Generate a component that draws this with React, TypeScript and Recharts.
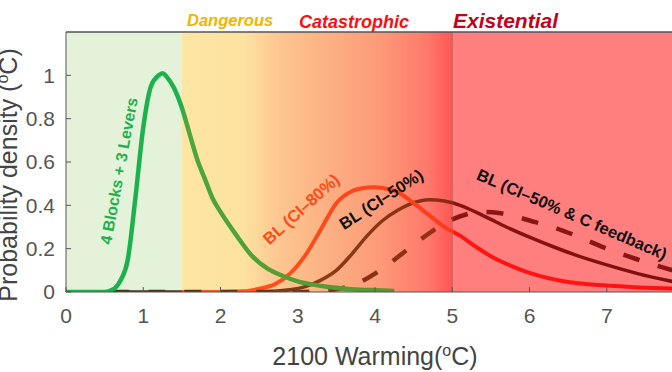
import {
  LineChart,
  Line,
  XAxis,
  YAxis,
  ReferenceArea,
  ReferenceLine,
} from 'recharts';

const xTicks = [0, 1, 2, 3, 4, 5, 6, 7];
const yTicks = [0, 0.2, 0.4, 0.6, 0.8, 1];

// 4 Blocks + 3 Levers
const greenX = [0, 0.5, 0.6, 0.7, 0.8, 0.9, 1.0, 1.1, 1.2, 1.25, 1.3, 1.4, 1.5, 1.6, 1.7, 1.8, 1.9, 2.0, 2.2, 2.4, 2.6, 2.8, 3.0, 3.2, 3.4, 3.7, 4.0, 4.25];
const greenY = [0, 0, 0.01, 0.05, 0.15, 0.44, 0.76, 0.95, 1.0, 1.01, 0.995, 0.94, 0.85, 0.73, 0.61, 0.52, 0.43, 0.37, 0.265, 0.17, 0.11, 0.075, 0.049, 0.034, 0.023, 0.013, 0.008, 0.005];

// BL (CI-80%)
const redX = [1.5, 2.0, 2.3, 2.5, 2.7, 2.9, 3.1, 3.3, 3.5, 3.7, 3.9, 4.0, 4.1, 4.3, 4.5, 4.7, 4.9, 5.1, 5.3, 5.5, 5.8, 6.0, 6.5, 7.0, 7.5, 7.9];
const redY = [0, 0, 0.003, 0.015, 0.035, 0.085, 0.17, 0.29, 0.41, 0.465, 0.482, 0.484, 0.48, 0.46, 0.41, 0.355, 0.3, 0.26, 0.21, 0.165, 0.115, 0.088, 0.046, 0.03, 0.02, 0.015];

// BL (CI-50%)
const darkX = [0.6, 2.5, 2.9, 3.1, 3.3, 3.5, 3.7, 3.9, 4.1, 4.3, 4.5, 4.7, 4.9, 5.1, 5.3, 5.5, 5.7, 6.0, 6.3, 6.6, 7.0, 7.4, 7.9];
const darkY = [0, 0, 0.01, 0.025, 0.055, 0.1, 0.175, 0.26, 0.33, 0.378, 0.412, 0.426, 0.42, 0.4, 0.37, 0.335, 0.3, 0.253, 0.21, 0.17, 0.125, 0.085, 0.045];

// BL (CI-50% & C feedback)
const dashX = [0.6, 3.0, 3.3, 3.6, 3.8, 4.0, 4.2, 4.4, 4.6, 4.8, 5.0, 5.2, 5.4, 5.6, 5.8, 6.0, 6.3, 6.6, 7.0, 7.4, 7.9];
const dashY = [0, 0, 0.005, 0.02, 0.045, 0.085, 0.135, 0.19, 0.245, 0.295, 0.335, 0.36, 0.37, 0.365, 0.35, 0.33, 0.3, 0.26, 0.2, 0.15, 0.095];

const zoneBounds = [1.5, 5];
const yMax = 1.2;

const toPts = (xs: number[], ys: number[]) => xs.map((x, i) => ({ x, y: ys[i] }));
// position of a data x inside a series' own x range (for the stroke gradients)
const frac = (xs: number[], v: number) => (v - xs[0]) / (xs[xs.length - 1] - xs[0]);

const font = '"Liberation Sans", Arial, Helvetica, sans-serif';
const axisGrey = '#555';

export default function App() {
  const g1 = frac(greenX, zoneBounds[0]);
  const r2 = frac(redX, zoneBounds[1]);
  const d1 = frac(darkX, zoneBounds[0]);
  const d2 = frac(darkX, zoneBounds[1]);
  const s2 = frac(dashX, zoneBounds[1]);

  return (
    <div style={{ position: 'relative', width: 672, height: 372, overflow: 'hidden' }}>
      <style>{'body{margin:0}'}</style>
      <LineChart
        width={684}
        height={372}
        margin={{ top: 31, right: 0, bottom: 0, left: 0 }}
      >
        <defs>
          <linearGradient id="bgGrad" x1="0" y1="0" x2="1" y2="0">
            <stop offset="0" stopColor="#fde5a3" />
            <stop offset="0.23" stopColor="#fde2a0" />
            <stop offset="0.36" stopColor="#fdc690" />
            <stop offset="0.54" stopColor="#fcb083" />
            <stop offset="0.73" stopColor="#fd9a78" />
            <stop offset="0.91" stopColor="#ff786b" />
            <stop offset="1" stopColor="#ff5656" />
          </linearGradient>
          <linearGradient id="gGreen" x1="0" y1="0" x2="1" y2="0">
            <stop offset="0" stopColor="#17b24f" />
            <stop offset={g1} stopColor="#1eb14c" />
            <stop offset={g1 + 0.01} stopColor="#4aa83a" />
            <stop offset="1" stopColor="#5e9230" />
          </linearGradient>
          <linearGradient id="gRed" x1="0" y1="0" x2="1" y2="0">
            <stop offset="0" stopColor="#ff5a1e" />
            <stop offset={r2} stopColor="#ff3a1a" />
            <stop offset={r2 + 0.005} stopColor="#ff1515" />
            <stop offset="1" stopColor="#ff1010" />
          </linearGradient>
          <linearGradient id="gDark" x1="0" y1="0" x2="1" y2="0">
            <stop offset="0" stopColor="#3a3420" />
            <stop offset={d1} stopColor="#4a3018" />
            <stop offset={d1 + 0.25} stopColor="#8b3c15" />
            <stop offset={d2} stopColor="#8a2c14" />
            <stop offset={d2 + 0.005} stopColor="#8a1212" />
            <stop offset="1" stopColor="#7f0f0f" />
          </linearGradient>
          <linearGradient id="gDash" x1="0" y1="0" x2="1" y2="0">
            <stop offset="0" stopColor="#3a3420" />
            <stop offset={frac(dashX, 3.2)} stopColor="#7a3015" />
            <stop offset={s2} stopColor="#9a3216" />
            <stop offset={s2 + 0.005} stopColor="#8b1515" />
            <stop offset="1" stopColor="#8b1515" />
          </linearGradient>
        </defs>

        <ReferenceArea x1={0} x2={zoneBounds[0]} fill="#e4f2d9" fillOpacity={1} stroke="none" />
        <ReferenceArea x1={zoneBounds[0]} x2={zoneBounds[1]} fill="url(#bgGrad)" fillOpacity={1} stroke="none" />
        <ReferenceArea x1={zoneBounds[1]} x2={8} fill="#ff7e7e" fillOpacity={1} stroke="none" />
        <ReferenceLine x={zoneBounds[1]} stroke="#c85a5a" strokeWidth={1} />
        {/* top frame of the box */}
        <ReferenceLine y={yMax} stroke={axisGrey} strokeWidth={1.2} />

        <Line
          data={toPts(darkX, darkY)}
          dataKey="y"
          type="monotone"
          stroke="url(#gDark)"
          strokeWidth={3.5}
          dot={false}
          activeDot={false}
          isAnimationActive={false}
        />
        <Line
          data={toPts(redX, redY)}
          dataKey="y"
          type="monotone"
          stroke="url(#gRed)"
          strokeWidth={4}
          dot={false}
          activeDot={false}
          isAnimationActive={false}
        />
        <Line
          data={toPts(dashX, dashY)}
          dataKey="y"
          type="monotone"
          stroke="url(#gDash)"
          strokeWidth={4.5}
          strokeDasharray="17 19"
          dot={false}
          activeDot={false}
          isAnimationActive={false}
        />
        <Line
          data={toPts(greenX, greenY)}
          dataKey="y"
          type="monotone"
          stroke="url(#gGreen)"
          strokeWidth={4.5}
          dot={false}
          activeDot={false}
          isAnimationActive={false}
        />
        {/* invisible copy that only links the top axis so its ticks get drawn */}
        <Line
          xAxisId="top"
          data={toPts(greenX, greenY)}
          dataKey="y"
          stroke="none"
          dot={false}
          activeDot={false}
          legendType="none"
          isAnimationActive={false}
        />

        <XAxis
          xAxisId="top"
          orientation="top"
          type="number"
          dataKey="x"
          domain={[0, 8]}
          ticks={xTicks}
          height={1}
          tick={false}
          tickSize={-5}
          stroke={axisGrey}
          allowDataOverflow
        />
        <XAxis
          type="number"
          dataKey="x"
          domain={[0, 8]}
          ticks={xTicks}
          height={80}
          tickSize={-5}
          tickMargin={21}
          stroke={axisGrey}
          tick={{ fill: '#555', fontSize: 21, fontFamily: font }}
          allowDataOverflow
        />
        <YAxis
          type="number"
          domain={[0, yMax]}
          ticks={yTicks}
          width={66}
          tickSize={-5}
          tickMargin={16}
          stroke={axisGrey}
          tick={{ fill: '#555', fontSize: 21, fontFamily: font }}
          allowDataOverflow
        />
      </LineChart>

      <svg
        width={672}
        height={372}
        style={{ position: 'absolute', left: 0, top: 0, pointerEvents: 'none' }}
        fontFamily={font}
      >
        <g fontWeight="bold" fontStyle="italic">
          <text x={187} y={26} fontSize={16.5} fill="#f5b400">Dangerous</text>
          <text x={299} y={28} fontSize={18} fill="#ff0d0d">Catastrophic</text>
          <text x={453} y={28} fontSize={21} fill="#c4001c">Existential</text>
        </g>

        <g fontWeight="bold" fontSize={16.5} textAnchor="middle" dominantBaseline="central">
          <text transform="translate(119,171) rotate(-79.6)" fontSize={16} fill="#1fb14f">
            4 Blocks + 3 Levers
          </text>
          <text transform="translate(301,209) rotate(-42)" fill="#ff4a1a">
            BL (CI–80%)
          </text>
          <text transform="translate(381,199) rotate(-33)" fill="#111">
            BL (CI–50%)
          </text>
          <text transform="translate(572,214) rotate(23.3)" fill="#111">
            BL (CI–50% &amp; C feedback)
          </text>
        </g>

        <text x={375} y={365} fontSize={25} fill="#444" textAnchor="middle">
          2100 Warming(<tspan dy={-9} fontSize={16}>o</tspan>
          <tspan dy={9}>C)</tspan>
        </text>
        <text transform="translate(17,175) rotate(-90)" fontSize={25} fill="#444" textAnchor="middle">
          Probability density (<tspan dy={-9} fontSize={16}>o</tspan>
          <tspan dy={9}>C)</tspan>
        </text>
      </svg>
    </div>
  );
}
